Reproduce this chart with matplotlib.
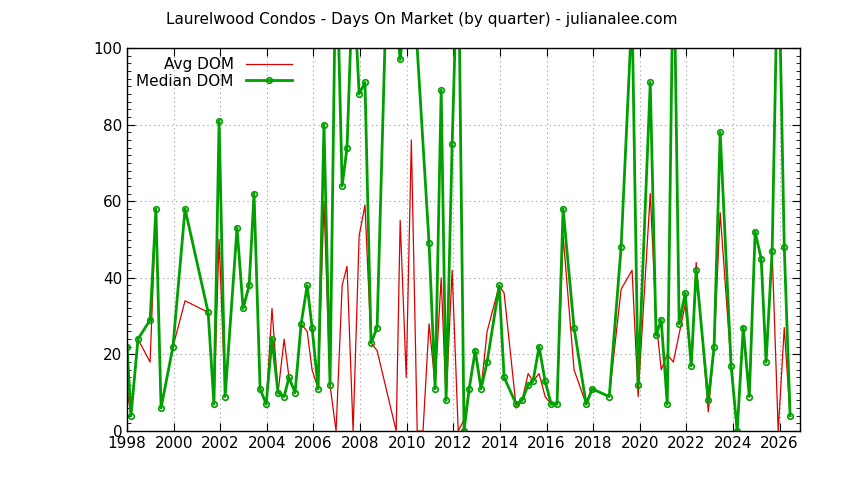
import matplotlib
matplotlib.use("Agg")
import matplotlib.pyplot as plt
from matplotlib.ticker import MultipleLocator

med_x = [1998.0,1998.17,1998.47,1998.99,1999.24,1999.46,1999.97,2000.49,2001.48,2001.73,2001.95,2002.21,2002.72,2002.98,2003.24,2003.45,2003.71,2003.97,2004.22,2004.48,2004.74,2004.95,2005.21,2005.47,2005.73,2005.94,2006.2,2006.45,2006.71,2006.97,2007.23,2007.44,2007.7,2007.96,2008.21,2008.47,2008.73,2009.2,2009.72,2010.2,2010.96,2011.22,2011.48,2011.69,2011.95,2012.21,2012.46,2012.68,2012.94,2013.19,2013.45,2013.97,2014.18,2014.7,2014.95,2015.21,2015.42,2015.68,2015.94,2016.2,2016.45,2016.71,2017.18,2017.7,2017.96,2018.69,2019.2,2019.67,2019.93,2020.45,2020.7,2020.92,2021.18,2021.45,2021.69,2021.95,2022.21,2022.42,2022.94,2023.19,2023.45,2023.92,2024.18,2024.44,2024.7,2024.95,2025.21,2025.42,2025.68,2025.94,2026.2,2026.45]
med_y = [22,4,24,29,58,6,22,58,31,7,81,9,53,32,38,62,11,7,24,10,9,14,10,28,38,27,11,80,12,130,64,74,120,88,91,23,27,130,97,125,49,11,89,8,75,130,0,11,21,11,18,38,14,7,8,12,13,22,13,7,7,58,27,7,11,9,48,110,12,91,25,29,7,130,28,36,17,42,8,22,78,17,0,27,9,52,45,18,47,130,48,4]
avg_x = [1998.0,1998.17,1998.47,1998.99,1999.24,1999.46,1999.97,2000.49,2001.48,2001.73,2001.95,2002.21,2002.72,2002.98,2003.24,2003.45,2003.71,2003.97,2004.22,2004.48,2004.74,2004.95,2005.21,2005.47,2005.73,2005.94,2006.2,2006.45,2006.71,2006.97,2007.23,2007.44,2007.7,2007.96,2008.21,2008.47,2008.73,2009.55,2009.72,2009.98,2010.2,2010.45,2010.7,2010.96,2011.22,2011.48,2011.69,2011.95,2012.21,2012.46,2012.68,2012.94,2013.19,2013.45,2013.97,2014.18,2014.7,2014.95,2015.21,2015.42,2015.68,2015.94,2016.2,2016.45,2016.71,2017.18,2017.7,2017.96,2018.69,2019.2,2019.67,2019.93,2020.45,2020.7,2020.92,2021.18,2021.44,2021.95,2022.21,2022.42,2022.94,2023.19,2023.45,2023.92,2024.18,2024.44,2024.7,2024.95,2025.21,2025.42,2025.68,2025.94,2026.2,2026.45]
avg_y = [11,4,24,18,58,6,22,34,31,7,50,9,53,32,38,62,11,7,32,10,24,14,10,28,26,16,11,60,12,0,38,43,0,51,59,23,21,0,55,14,76,0,0,28,12,40,8,42,0,3,11,21,11,26,38,36,6,8,15,13,15,9,7,7,51,16,7,11,9,37,42,9,62,29,16,20,18,33,17,44,5,22,57,17,0,26,9,52,45,18,47,0,27,4]

fig = plt.figure(figsize=(8.44, 4.8), dpi=100)
ax = fig.add_axes([0.1505, 0.102, 0.7975, 0.798])
ax.plot(avg_x, avg_y, color="#dd0000", lw=0.9, label="Avg DOM")
ax.plot(med_x, med_y, color="#00a000", lw=2, marker="o", ms=4, mfc="none",
        mec="#00a000", mew=1.2, label="Median DOM")
ax.set_xlim(1998, 2026.88)
ax.set_ylim(0, 100)
ax.xaxis.set_major_locator(MultipleLocator(2))
ax.yaxis.set_major_locator(MultipleLocator(20))
ax.yaxis.set_minor_locator(MultipleLocator(2))
ax.tick_params(which="both", direction="in", top=True, right=True, labelsize=11)
ax.tick_params(which="minor", length=3)
ax.tick_params(which="major", length=6)
ax.grid(True, which="major", color="#999999", ls=(0, (1, 3)), lw=0.8)
for s in ax.spines.values():
    s.set_linewidth(1)
leg = ax.legend(loc="upper left", frameon=False, fontsize=11, markerfirst=False,
                handlelength=3, borderaxespad=0.2, labelspacing=0.1)
for t in leg.get_texts():
    t.set_ha("right")
fig.text(0.5, 0.96, "Laurelwood Condos - Days On Market (by quarter) - julianalee.com",
         ha="center", va="center", fontsize=11)
fig.savefig("out.png", dpi=100)
